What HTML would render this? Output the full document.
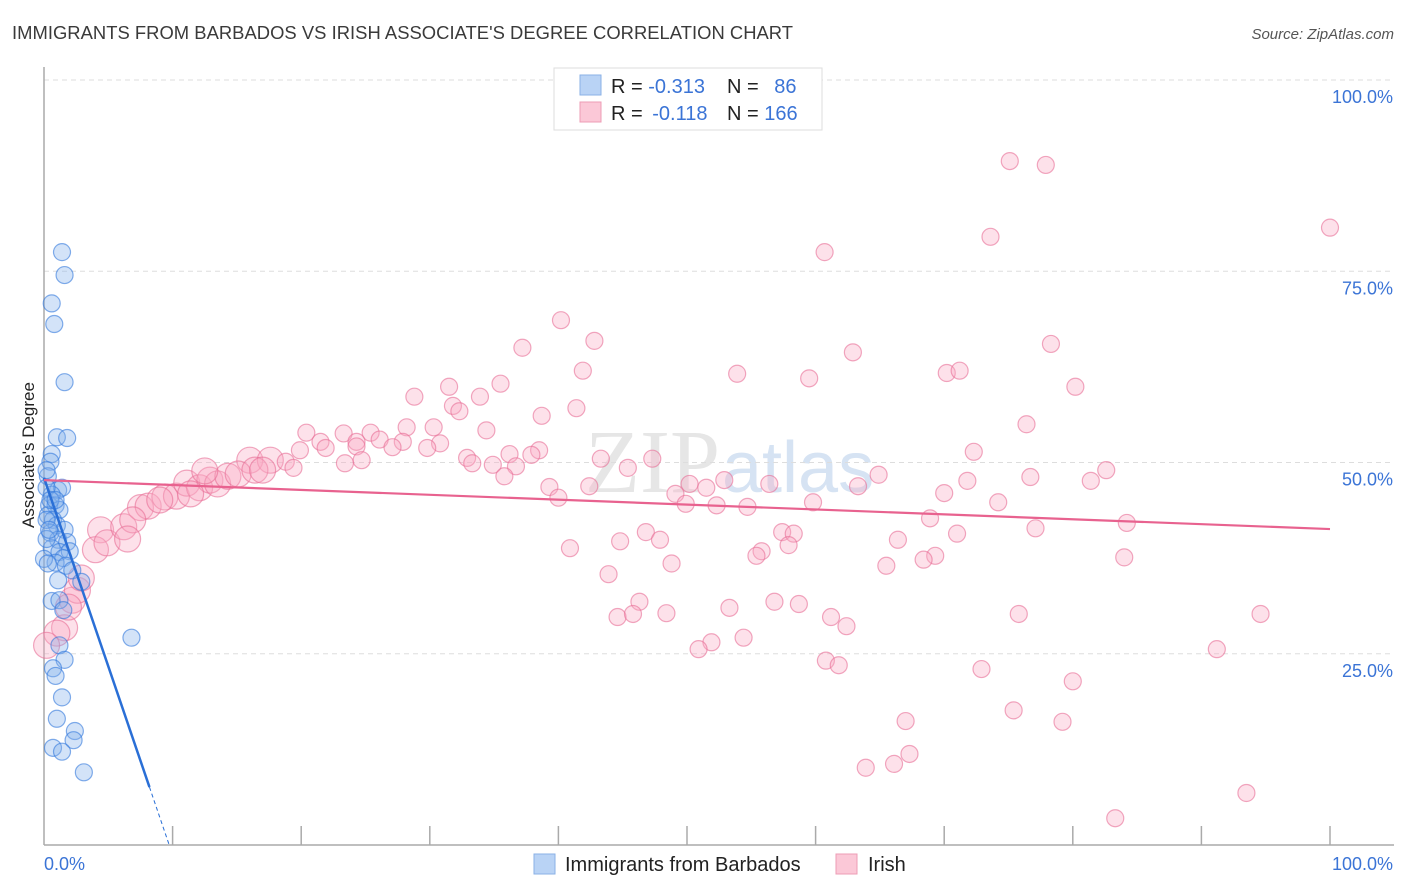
<!DOCTYPE html>
<html><head><meta charset="utf-8">
<style>
body{margin:0;background:#fff;font-family:"Liberation Sans",sans-serif;}
svg{display:block}
</style></head>
<body>
<svg id="chart" width="1406" height="892" xmlns="http://www.w3.org/2000/svg">
  <text x="12" y="39" font-size="18.4" fill="#3a3a3a" textLength="781">IMMIGRANTS FROM BARBADOS VS IRISH ASSOCIATE'S DEGREE CORRELATION CHART</text>
  <text x="1394" y="39" font-size="15" fill="#555" text-anchor="end" font-style="italic">Source: ZipAtlas.com</text>
  <text x="720" y="492" font-size="90" fill="#e6e6e6" text-anchor="end" font-family="Liberation Serif,serif">ZIP</text>
  <text x="722" y="492" font-size="72" fill="#d6e3f3">atlas</text>
  <g id="grid"></g>
  <g id="axes"></g>
  <g id="pink"></g>
  <g id="blue"></g>
  <g id="lines"></g>
  <text transform="translate(34,455) rotate(-90)" font-size="17" fill="#222" text-anchor="middle">Associate's Degree</text>
  <g>
    <rect x="554" y="68" width="268" height="62" fill="#fff" stroke="#ddd"/>
    <rect x="580" y="75" width="21" height="20" fill="#b9d3f5" stroke="#8ab0e6"/>
    <rect x="580" y="102" width="21" height="20" fill="#fbc8d7" stroke="#ee9cb5"/>
    <text x="611" y="93" font-size="20" fill="#222">R = <tspan fill="#3b74d6">-0.313</tspan></text>
    <text x="727" y="93" font-size="20" fill="#222">N = <tspan fill="#3b74d6" dx="10">86</tspan></text>
    <text x="611" y="120" font-size="20" fill="#222">R = <tspan fill="#3b74d6" dx="4">-0.118</tspan></text>
    <text x="727" y="120" font-size="20" fill="#222">N = <tspan fill="#3b74d6">166</tspan></text>
  </g>
  <g>
    <rect x="534" y="854" width="21" height="20" fill="#b9d3f5" stroke="#8ab0e6"/>
    <text x="565" y="871" font-size="20" fill="#222">Immigrants from Barbados</text>
    <rect x="836" y="854" width="21" height="20" fill="#fbc8d7" stroke="#ee9cb5"/>
    <text x="868" y="871" font-size="20" fill="#222">Irish</text>
  </g>
</svg>
<script>
const yTicks=[25,50,75,100];
const yTickLabels=["25.0%","50.0%","75.0%","100.0%"];
const xTicks=[10,20,30,40,50,60,70,80,90,100];
const xEndLabels=["0.0%","100.0%"];
const blueX=[1.4,1.6,0.6,0.8,1.6,1.0,1.8,0.6,0.5,0.3,1.1,1.4,0.6,0.4,0.9,1.2,0.3,0.7,1.0,1.6,0.5,1.1,1.8,0.6,1.2,2.0,1.5,0.9,1.7,2.2,1.1,2.9,0.6,1.2,1.5,1.2,1.6,0.7,0.9,1.4,1.0,2.4,2.3,0.7,1.4,3.1,6.8,0.2,0.2,0.5,0.2,0.2,0.0,0.3,0.9,0.4];
const blueY=[77.5,74.5,70.8,68.1,60.5,53.3,53.2,51.1,50.1,48.2,46.4,46.7,45.8,44.4,44.4,43.8,43.1,42.5,41.8,41.2,40.8,39.9,39.6,38.8,38.3,38.4,37.5,36.9,36.5,35.9,34.6,34.4,31.9,32.0,30.7,26.1,24.2,23.1,22.1,19.3,16.5,14.9,13.7,12.7,12.2,9.5,27.1,49.0,46.7,45.1,42.5,40.0,37.4,36.8,45.1,41.2];
const pinkX=[75.1,77.9,100,73.6,60.7,40.2,42.8,37.2,62.9,78.3,41.9,53.9,59.5,70.2,71.2,80.2,35.5,31.5,33.9,28.8,31.8,32.3,41.4,38.7,28.2,30.3,34.4,20.4,25.4,76.4,23.3,26.1,21.5,24.3,27.9,24.3,27.1,19.9,21.9,30.8,29.8,38.5,72.3,36.2,32.9,33.3,16.0,17.6,18.8,43.3,47.3,37.9,34.9,36.7,23.4,24.7,19.4,45.4,82.6,64.9,76.7,35.8,71.8,81.4,63.3,52.9,56.4,50.2,39.3,42.4,49.1,51.5,70.0,40.0,49.9,52.3,54.7,59.8,74.2,68.9,84.2,77.1,46.8,71.0,44.8,47.9,57.4,58.3,66.4,57.9,40.9,55.8,55.4,69.3,68.4,48.8,84.0,65.5,43.9,46.3,56.8,58.7,53.3,48.4,44.6,45.8,75.8,94.6,61.2,62.4,54.4,51.9,50.9,91.2,60.8,61.8,72.9,80.0,75.4,67.0,79.2,67.3,66.1,63.9,93.5,83.3,4.4,4.0,4.9,6.2,7.5,8.1,9.4,10.3,11.1,12.1,12.9,13.5,14.3,12.5,15.1,16.4,17.0,11.4,9.0,6.9,6.5,1.6,1.0,2.2,2.6,2.9,1.9,0.2];
const pinkY=[89.4,88.9,80.7,79.5,77.5,68.6,65.9,65.0,64.4,65.5,62.0,61.6,61.0,61.7,62.0,59.9,60.3,59.9,58.6,58.6,57.4,56.7,57.1,56.1,54.6,54.6,54.2,53.9,53.9,55.0,53.8,53.0,52.7,52.7,52.7,52.1,52.0,51.6,51.9,52.5,51.9,51.6,51.4,51.1,50.6,49.9,50.3,50.3,50.1,50.5,50.5,51.0,49.7,49.5,49.9,50.3,49.3,49.3,49.0,48.4,48.1,48.2,47.6,47.6,46.9,47.7,47.2,47.2,46.8,46.9,45.9,46.7,46.0,45.4,44.6,44.4,44.2,44.8,44.8,42.7,42.1,41.4,40.9,40.7,39.7,39.9,40.9,40.7,39.9,39.2,38.8,38.4,37.8,37.8,37.3,36.8,37.6,36.5,35.4,31.8,31.8,31.5,31.0,30.3,29.8,30.2,30.2,30.2,29.8,28.6,27.1,26.5,25.6,25.6,24.1,23.5,23.0,21.4,17.6,16.2,16.1,11.9,10.6,10.1,6.8,3.5,41.2,38.6,39.5,41.6,44.1,44.3,45.5,45.6,47.3,46.7,47.7,47.2,48.2,48.9,48.5,49.0,49.0,45.9,45.1,42.5,40.0,28.4,27.7,32.0,33.3,34.9,31.1,26.1];
const blueTrend=[48.0,-4.93];
const pinkTrend=[47.7,41.3];

const NS="http://www.w3.org/2000/svg";
const X0=44,X1=1330,Y0=845,Y100=80;
function sx(v){return X0+(X1-X0)*v/100;}
function sy(v){return Y0-(Y0-Y100)*v/100;}
function mk(tag,attrs,parent){const e=document.createElementNS(NS,tag);for(const k in attrs)e.setAttribute(k,attrs[k]);parent.appendChild(e);return e;}
const grid=document.getElementById('grid'),axes=document.getElementById('axes');
yTicks.forEach((t,i)=>{
  const l=mk('line',{x1:X0,x2:1394,y1:sy(t),y2:sy(t),stroke:'#ddd','stroke-dasharray':'5,4'},grid);
  
  
  const tx=mk('text',{x:1393,y:sy(t)+23,'font-size':18,fill:'#3b74d6','text-anchor':'end'},axes);
  tx.textContent=yTickLabels[i];
  
  
});
const ya=mk('line',{x1:X0,x2:X0,y1:67,y2:Y0,stroke:'#aaa','stroke-width':1.5},axes);


const xa=mk('line',{x1:X0,x2:1394,y1:Y0,y2:Y0,stroke:'#aaa','stroke-width':1.5},axes);


xTicks.forEach(t=>{
  const l=mk('line',{x1:sx(t),x2:sx(t),y1:Y0,y2:Y0-19,stroke:'#aaa','stroke-width':1.5},axes);
  
  
});
const xl0=mk('text',{x:44,y:870,'font-size':18,fill:'#3b74d6'},axes);xl0.textContent=xEndLabels[0];


const xl1=mk('text',{x:1393,y:870,'font-size':18,fill:'#3b74d6','text-anchor':'end'},axes);xl1.textContent=xEndLabels[1];



const pg=document.getElementById('pink');
pinkX.forEach((x,i)=>{
  const r=x<18?13:8.5;
  const c=mk('circle',{cx:sx(x),cy:sy(pinkY[i]),r:r,fill:'rgba(248,170,195,0.35)',stroke:'rgba(232,110,150,0.6)','stroke-width':1.2},pg);
  
  
});
const bg=document.getElementById('blue');
blueX.forEach((x,i)=>{
  const c=mk('circle',{cx:sx(x),cy:sy(blueY[i]),r:8.5,fill:'rgba(130,175,235,0.35)',stroke:'rgba(50,120,220,0.6)','stroke-width':1.2},bg);
  
  
});
const lg=document.getElementById('lines');
const xEnd=8.2, xZero=blueTrend[0]/-blueTrend[1];
const bl=mk('line',{x1:sx(0),y1:sy(blueTrend[0]),x2:sx(xEnd),y2:sy(blueTrend[0]+blueTrend[1]*xEnd),stroke:'#2a6fd6','stroke-width':2.5},lg);


const bd=mk('line',{x1:sx(xEnd),y1:sy(blueTrend[0]+blueTrend[1]*xEnd),x2:sx(xZero),y2:sy(0),stroke:'#2a6fd6','stroke-width':1,'stroke-dasharray':'4,3'},lg);


const pl=mk('line',{x1:sx(0),y1:sy(pinkTrend[0]),x2:sx(100),y2:sy(pinkTrend[1]),stroke:'#e8628f','stroke-width':2.2},lg);


</script>
</body></html>
